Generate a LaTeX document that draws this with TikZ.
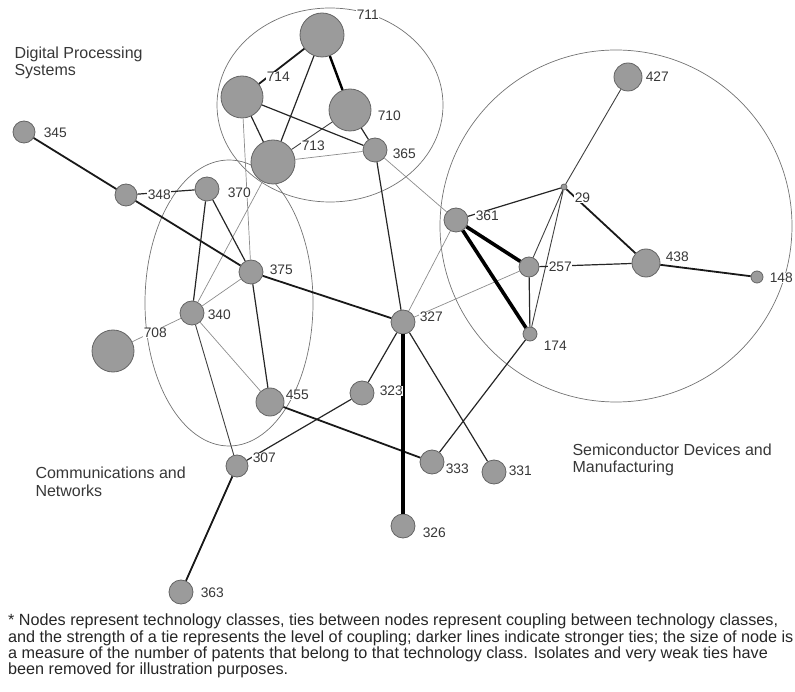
\documentclass[tikz,border=0pt]{standalone}
\usepackage{fontspec}
\setmainfont{Liberation Sans}
\definecolor{nodegray}{RGB}{155,155,155}
\definecolor{rimgray}{RGB}{100,100,100}
\definecolor{inkgray}{RGB}{55,55,55}
\tikzset{
    cls/.style={circle, draw=rimgray, fill=nodegray, line width=0.8pt, inner sep=0pt, minimum size=#1},
    tag/.style={anchor=west, inner sep=0.6pt, fill=white, text=inkgray, font=\fontsize{13.8}{14}\selectfont},
    area/.style={draw=black!55, line width=0.7pt},
    faint/.style={draw=black!45, line width=0.7pt},
    plain/.style={draw=black!85, line width=1.2pt},
    firm/.style={draw=black!90, line width=1.8pt},
    heavy/.style={draw=black, line width=3.2pt}
}

\begin{document}
\begin{tikzpicture}
  [
    x = 1pt, y = -1pt,
    every node/.style = {font=\fontsize{16}{17.5}\selectfont},
  ]
  \useasboundingbox (0,0) rectangle (795,692);

  \draw[area] (330,105) ellipse [x radius=113, y radius=97];
  \draw[area] (229,303) ellipse [x radius=84, y radius=143];
  \draw[area] (616,226) circle [radius=176];

  \node [cls=44] (c711) at (322,35) {};
  \node [cls=42] (c714) at (242,97) {};
  \node [cls=42] (c710) at (350,110) {};
  \node [cls=44] (c713) at (273,162) {};
  \node [cls=24] (c365) at (375,150) {};
  \node [cls=22] (c345) at (24,132) {};
  \node [cls=22] (c348) at (126,195) {};
  \node [cls=24] (c370) at (207,189) {};
  \node [cls=24] (c375) at (251,272) {};
  \node [cls=24] (c340) at (192,313) {};
  \node [cls=42] (c708) at (113,351) {};
  \node [cls=28] (c455) at (270,402) {};
  \node [cls=24] (c323) at (362,393) {};
  \node [cls=22] (c307) at (237,466) {};
  \node [cls=24] (c327) at (403,322) {};
  \node [cls=14] (c174) at (530,334) {};
  \node [cls=24] (c333) at (432,462) {};
  \node [cls=24] (c331) at (494,472) {};
  \node [cls=24] (c326) at (403,526) {};
  \node [cls=24] (c363) at (181,592) {};
  \node [cls=28] (c427) at (628,77) {};
  \node [cls=6]  (c29)  at (564,187) {};
  \node [cls=24] (c361) at (456,220) {};
  \node [cls=20] (c257) at (529,267) {};
  \node [cls=28] (c438) at (646,263) {};
  \node [cls=12] (c148) at (757,277) {};

  \draw[faint] (c714) -- (c375)  (c713) -- (c365)  (c713) -- (c340)
               (c365) -- (c361)  (c375) -- (c340)  (c340) -- (c455)
               (c340) -- (c708)  (c327) -- (c361)  (c327) -- (c257);
  \draw[draw=black!75, line width=0.9pt] (c710) -- (c713)  (c340) -- (c307)
               (c257) -- (c29)  (c174) -- (c29)  (c29) -- (c427);
  \draw[plain] (c711) -- (c713)  (c714) -- (c713)  (c714) -- (c365)
               (c710) -- (c365)  (c365) -- (c327)  (c370) -- (c348)
               (c370) -- (c375)  (c370) -- (c340)  (c375) -- (c455)
               (c307) -- (c323)  (c323) -- (c327)  (c327) -- (c331)
               (c174) -- (c333)  (c361) -- (c29)   (c257) -- (c174)
               (c257) -- (c438);
  \draw[firm] (c711) -- (c714)  (c345) -- (c348)
              (c348) -- (c375)  (c375) -- (c327)  (c455) -- (c333)
              (c307) -- (c363)  (c29) -- (c438)   (c438) -- (c148);
  \draw[heavy, line width=2.4pt] (c711) -- (c710);
  \draw[heavy] (c327) -- (c326);
  \draw[heavy, line width=3.6pt] (c361) -- (c257)  (c361) -- (c174);

  \node [tag] (t711) at (356,15) {711};
  \node [tag] (t714) at (266,77) {714};
  \node [tag] (t710) at (377,116) {710};
  \node [tag] (t713) at (301,146) {713};
  \node [tag] (t365) at (392,154) {365};
  \node [tag] (t345) at (43,133) {345};
  \node [tag] (t348) at (147,195) {348};
  \node [tag] (t370) at (227,193) {370};
  \node [tag] (t375) at (269,270) {375};
  \node [tag] (t340) at (207,315) {340};
  \node [tag] (t708) at (143,333) {708};
  \node [tag] (t455) at (285,395) {455};
  \node [tag] (t323) at (379,391) {323};
  \node [tag] (t307) at (252,458) {307};
  \node [tag] (t327) at (419,317) {327};
  \node [tag] (t174) at (543,346) {174};
  \node [tag] (t333) at (445,469) {333};
  \node [tag] (t331) at (508,471) {331};
  \node [tag] (t326) at (422,533) {326};
  \node [tag] (t363) at (200,593) {363};
  \node [tag] (t427) at (645,77) {427};
  \node [tag] (t29)  at (574,198) {29};
  \node [tag] (t361) at (475,216) {361};
  \node [tag] (t257) at (548,267) {257};
  \node [tag] (t438) at (665,257) {438};
  \node [tag] (t148) at (769,278) {148};

  \node [anchor=west, align=left, text=inkgray] (dps) at (11,63)
    {Digital Processing\\Systems};
  \node [anchor=west, align=left, text=inkgray] (cnn) at (32,482)
    {Communications and\\Networks};
  \node [anchor=west, align=left, text=inkgray] (sdm) at (569,460)
    {Semiconductor Devices and\\Manufacturing};

  \node [anchor=north west, align=left, inner sep=0pt, text=black!85,
         font=\fontsize{16.2}{15}\selectfont] (note) at (8,614)
    {* Nodes represent technology classes, ties between nodes represent coupling between technology classes,\\
     and the strength of a tie represents the level of coupling; darker lines indicate stronger ties; the size of node is\\
     a measure of the number of patents that belong to that technology class. Isolates and very weak ties have\\
     been removed for illustration purposes.};
\end{tikzpicture}
\end{document}
